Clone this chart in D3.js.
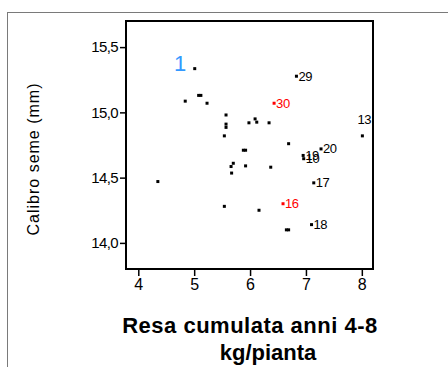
<!DOCTYPE html>
<html>
<head>
<meta charset="utf-8">
<script src="https://cdn.jsdelivr.net/npm/d3@7"></script>
<style>
  body { margin: 0; background: #fff; }
  svg { display: block; font-family: Arial, "Liberation Sans", sans-serif; }
</style>
</head>
<body>
<svg id="chart"></svg>
<script>
// resa cumulata (kg/pianta) vs calibro seme (mm)
const resa    = [5.01, 4.84, 5.08, 5.12, 5.23, 5.57, 5.57, 5.57, 5.54, 5.98, 6.09, 6.12, 6.34,
                 5.88, 5.92, 5.70, 5.66, 5.67, 5.92, 6.37, 6.69, 4.35, 5.54, 6.16, 6.65, 6.69,
                 6.83, 6.43, 8.01, 7.27, 6.95, 6.96, 7.14, 6.59, 7.10];
const calibro = [15.335, 15.086, 15.13, 15.13, 15.07, 14.98, 14.91, 14.885, 14.82, 14.92, 14.95, 14.925, 14.92,
                 14.71, 14.71, 14.61, 14.585, 14.535, 14.59, 14.58, 14.76, 14.47, 14.28, 14.25, 14.10, 14.10,
                 15.277, 15.07, 14.82, 14.72, 14.67, 14.645, 14.46, 14.30, 14.14];
const etichette = ["", "", "", "", "", "", "", "", "", "", "", "", "",
                   "", "", "", "", "", "", "", "", "", "", "", "", "",
                   "29", "30", "13", "20", "19", "10", "17", "16", "18"];
const evidenziati = ["30", "16"];
const xTicks = [4, 5, 6, 7, 8];
const yTicks = [14.0, 14.5, 15.0, 15.5];
const nota = {x: 4.75, y: 15.38, testo: "1"};

const svgWidth = 448, svgHeight = 367;
const margin = {top: 21, right: 75, bottom: 98, left: 126};
const width = svgWidth - margin.left - margin.right;
const height = svgHeight - margin.top - margin.bottom;

const svg = d3.select("#chart")
    .attr("width", svgWidth)
    .attr("height", svgHeight);

// outer frame
svg.append("rect")
    .attr("x", 7.5).attr("y", 12.5)
    .attr("width", 460).attr("height", 380)
    .attr("fill", "none")
    .attr("stroke", "#7a7a7a")
    .attr("stroke-width", 1);

const g = svg.append("g")
    .attr("transform", "translate(" + margin.left + "," + margin.top + ")");

const x = d3.scaleLinear().domain([3.78, 8.2]).range([0, width]);
const y = d3.scaleLinear().domain([13.8, 15.7]).range([height, 0]);

const virgola = d => d3.format(".1f")(d).replace(".", ",");

const ax = g.append("g")
    .attr("transform", "translate(0," + height + ")")
    .call(d3.axisBottom(x).tickValues(xTicks).tickSize(7).tickPadding(3).tickFormat(d3.format("d")));
ax.select(".domain").remove();
ax.selectAll("line").attr("stroke", "#000").attr("stroke-width", 1.5);
ax.selectAll("text").attr("font-size", 16).attr("fill", "#000").attr("font-family", "Arial, 'Liberation Sans', sans-serif");

const ay = g.append("g")
    .call(d3.axisLeft(y).tickValues(yTicks).tickSize(6).tickPadding(2).tickFormat(virgola));
ay.select(".domain").remove();
ay.selectAll("line").attr("stroke", "#000").attr("stroke-width", 1.5);
ay.selectAll("text").attr("font-size", 15).attr("fill", "#000").attr("letter-spacing", -0.6)
    .attr("font-family", "Arial, 'Liberation Sans', sans-serif");

// plot box
g.append("rect")
    .attr("x", 0).attr("y", 0)
    .attr("width", width).attr("height", height)
    .attr("fill", "none")
    .attr("stroke", "#000")
    .attr("stroke-width", 2);

const punti = resa.map((r, i) => ({x: r, y: calibro[i], label: etichette[i]}));
const colore = d => evidenziati.includes(d.label) ? "#ff0000" : "#000";

g.selectAll(".punto")
    .data(punti)
    .enter().append("rect")
    .attr("class", "punto")
    .attr("x", d => x(d.x) - 1.5)
    .attr("y", d => y(d.y) - 1.5)
    .attr("width", 3).attr("height", 3)
    .attr("fill", colore);

// labels: right of the point, above it when there is no room
g.selectAll(".etichetta")
    .data(punti.filter(d => d.label))
    .enter().append("text")
    .attr("class", "etichetta")
    .attr("font-size", 13)
    .attr("letter-spacing", -0.4)
    .attr("fill", colore)
    .attr("x", d => x(d.x) + 15 > width ? x(d.x) + 2 : x(d.x) + 2)
    .attr("y", d => x(d.x) + 15 > width ? y(d.y) - 12 : y(d.y) + 4.5)
    .attr("text-anchor", d => x(d.x) + 15 > width ? "middle" : "start")
    .text(d => d.label);

g.append("text")
    .attr("x", x(nota.x))
    .attr("y", y(nota.y) + 8)
    .attr("text-anchor", "middle")
    .attr("font-size", 22)
    .attr("fill", "#3399ff")
    .text(nota.testo);

// axis titles
svg.append("text")
    .attr("transform", "translate(39,159) rotate(-90)")
    .attr("text-anchor", "middle")
    .attr("font-size", 16)
    .attr("letter-spacing", 1)
    .attr("fill", "#000")
    .text("Calibro seme (mm)");

svg.append("text")
    .attr("x", 250).attr("y", 333)
    .attr("text-anchor", "middle")
    .attr("font-size", 22)
    .attr("font-weight", "bold")
    .attr("letter-spacing", 0.5)
    .attr("fill", "#000")
    .text("Resa cumulata anni 4-8");

svg.append("text")
    .attr("x", 268).attr("y", 360)
    .attr("text-anchor", "middle")
    .attr("font-size", 22)
    .attr("font-weight", "bold")
    .attr("fill", "#000")
    .text("kg/pianta");
</script>
</body>
</html>
